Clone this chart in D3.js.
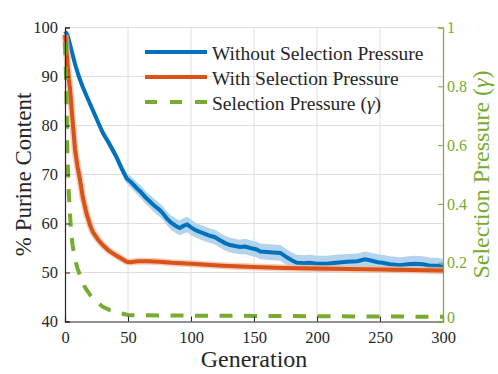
<!DOCTYPE html>
<html><head><meta charset="utf-8">
<script src="https://cdn.jsdelivr.net/npm/d3@7"></script>
<style>body{margin:0;background:#fff}svg{display:block}</style>
</head><body><svg id="c" width="498" height="374"></svg>
<script>
const blueGen=[0,2,5,8,11,14,18,22,26,30,34,37,41,45,49,53,57,60,64,67,71,75,78,81,84,88,91,94,97,100,104,107,111,115,119,123,127,131,135,139,143,147,152,155,160,165,171,176,180,184,190,194,200,208,215,224,232,238,242,248,252,258,266,272,278,284,290,295,300];
const blueVal=[99.2,98.5,95.5,92.5,90,87.9,85.5,83.2,80.8,78.5,76.8,75.4,73.5,71.2,69.2,68.3,67.2,66.5,65.3,64.6,63.6,62.8,62,61,60.2,59.5,59.1,59.5,59.8,59.2,58.6,58.3,57.9,57.5,57.2,56.6,56,55.6,55.4,55.2,55.3,55,54.7,54.3,54.2,54.1,54,53.1,52.5,52,51.9,52,51.8,51.8,52,52.2,52.3,52.7,52.5,52.1,52,51.7,51.5,51.7,51.8,51.7,51.4,51.4,51.2];
const blueErr=[0.3,0.4,0.5,0.6,0.6,0.7,0.7,0.8,0.8,0.9,0.9,1.0,1.0,1.1,1.1,1.2,1.2,1.3,1.3,1.3,1.4,1.4,1.4,1.4,1.5,1.5,1.5,1.6,1.6,1.6,1.5,1.5,1.5,1.5,1.5,1.5,1.5,1.5,1.5,1.5,1.6,1.6,1.6,1.6,1.6,1.6,1.6,1.6,1.6,1.6,1.6,1.6,1.6,1.6,1.6,1.6,1.6,1.6,1.6,1.6,1.6,1.6,1.6,1.6,1.6,1.6,1.6,1.6,1.6];
const orangeGen=[0,1,2,3,4,6,8,10,12,14,17,20,22,26,30,35,41,45,49,52,58,65,75,85,100,125,150,175,200,225,250,275,300];
const orangeVal=[98.5,96,92.5,89.5,87.5,81,75,71.5,68.8,65.5,62.1,59.6,58.3,56.8,55.6,54.4,53.4,52.8,52.2,52.1,52.3,52.3,52.2,52.0,51.8,51.4,51.1,50.9,50.8,50.7,50.6,50.5,50.4];
const greenGen=[0,1,2,3,4,5,6,8,10,13,16,20,25,30,36,42,50,75,100,150,200,250,300];
const greenVal=[0.95,0.8,0.56,0.44,0.36,0.3,0.26,0.21,0.18,0.145,0.115,0.09,0.068,0.05,0.038,0.03,0.022,0.02,0.02,0.019,0.018,0.017,0.016];
const xTicks=[0,50,100,150,200,250,300];
const yTicks=[40,50,60,70,80,90,100];
const y2Ticks=[0,0.2,0.4,0.6,0.8,1];
const y2Labels=["0","0.2","0.4","0.6","0.8","1"];
const legendLabels=["Without Selection Pressure","With Selection Pressure","Selection Pressure ("];

const FONT='"Liberation Serif","Times New Roman","DejaVu Serif",serif';
const BLUE="#0072BD",ORANGE="#D95319",GREEN="#77AC30",BAND="#b3d4ec",TXT="#262626",GRID="#dedede";
const svg=d3.select("#c");
const L=65,R=443,T=27.5,B=321.5;
const x=d3.scaleLinear().domain([0,300]).range([L,R]);
const y=d3.scaleLinear().domain([40,100]).range([B,T]);
const y2=d3.scaleLinear().domain([0,1]).range([B,T]);

const g=svg.append("g");
g.selectAll("line.v").data(xTicks.filter(d=>d>0&&d<300)).enter().append("line")
 .attr("x1",d=>x(d)).attr("x2",d=>x(d)).attr("y1",T).attr("y2",B).attr("stroke",GRID).attr("stroke-width",1);
g.selectAll("line.h").data(yTicks.filter(d=>d>40)).enter().append("line")
 .attr("x1",L).attr("x2",R).attr("y1",d=>y(d)).attr("y2",d=>y(d)).attr("stroke",GRID).attr("stroke-width",1);

const blue=blueGen.map((gg,i)=>({g:gg,v:blueVal[i],e:blueErr[i]}));
const orange=orangeGen.map((gg,i)=>({g:gg,v:orangeVal[i]}));
const green=greenGen.map((gg,i)=>({g:gg,v:greenVal[i]}));

svg.append("path").datum(blue).attr("fill",BAND)
 .attr("d",d3.area().x(d=>x(d.g)).y0(d=>y(d.v-d.e)).y1(d=>y(d.v+d.e)));
svg.append("path").datum(blue).attr("fill","none").attr("stroke",BLUE).attr("stroke-width",4)
 .attr("d",d3.line().x(d=>x(d.g)).y(d=>y(d.v)));
svg.append("path").datum(orange).attr("fill","none").attr("stroke","#f0b9a0").attr("stroke-width",7).attr("opacity",0.7)
 .attr("d",d3.line().x(d=>x(d.g)).y(d=>y(d.v)));
svg.append("path").datum(orange).attr("fill","none").attr("stroke",ORANGE).attr("stroke-width",4)
 .attr("d",d3.line().x(d=>x(d.g)).y(d=>y(d.v)));
svg.append("path").datum(green).attr("fill","none").attr("stroke",GREEN).attr("stroke-width",4)
 .attr("stroke-dasharray","13,11.5")
 .attr("d",d3.line().x(d=>x(d.g)).y(d=>y2(d.v)));

const ax=svg.append("g").attr("transform",`translate(0,${B})`)
 .call(d3.axisBottom(x).tickValues(xTicks).tickSize(-5).tickPadding(10));
const ay=svg.append("g").attr("transform",`translate(${L},0)`)
 .call(d3.axisLeft(y).tickValues(yTicks).tickSize(-5).tickPadding(7));
const ay2=svg.append("g").attr("transform",`translate(${R},0)`)
 .call(d3.axisRight(y2).tickValues(y2Ticks).tickFormat((d,i)=>y2Labels[i]).tickSize(-5).tickPadding(4));
[ax,ay].forEach(a=>{a.select(".domain").attr("stroke",TXT).attr("stroke-width",1.2);
 a.selectAll(".tick line").attr("stroke",TXT);
 a.selectAll("text").attr("fill",TXT).style("font-size","16.5px").style("font-family",FONT);});
ay2.select(".domain").attr("stroke",GREEN).attr("stroke-width",1.2);
ay2.selectAll(".tick line").attr("stroke",GREEN);
ay2.selectAll("text").attr("fill",GREEN).style("font-size","16px").style("font-family",FONT)
 .attr("y",d=>d===0?-4:0);

svg.append("text").attr("x",254).attr("y",367).attr("text-anchor","middle").attr("fill",TXT)
 .style("font-size","24px").style("font-family",FONT).text("Generation");
svg.append("text").attr("transform",`translate(31,${(T+B)/2}) rotate(-90)`).attr("text-anchor","middle").attr("fill",TXT)
 .style("font-size","23px").style("font-family",FONT).text("% Purine Content");
const rl=svg.append("text").attr("transform",`translate(489,${(T+B)/2}) rotate(-90)`).attr("text-anchor","middle").attr("fill",GREEN)
 .style("font-size","24px").style("font-family",FONT);
rl.append("tspan").text("Selection Pressure (");
rl.append("tspan").style("font-style","italic").text("γ");
rl.append("tspan").text(")");

const leg=svg.append("g");
const legY=[52,77,102];
const legC=[BLUE,ORANGE,GREEN];
legY.forEach((ly,i)=>{
 leg.append("line").attr("x1",145).attr("x2",207).attr("y1",ly).attr("y2",ly).attr("stroke",legC[i]).attr("stroke-width",4)
  .attr("stroke-dasharray",i==2?"12,13":null);
 const t=leg.append("text").attr("x",212).attr("y",ly+7.5).attr("fill",TXT).style("font-size","19.5px").style("font-family",FONT);
 t.append("tspan").text(legendLabels[i]);
 if(i==2){t.append("tspan").style("font-style","italic").text("γ");t.append("tspan").text(")");}
});
</script></body></html>
